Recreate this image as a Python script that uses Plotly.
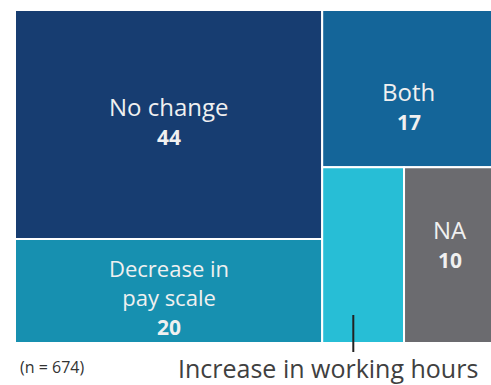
import plotly.graph_objects as go

# Treemap data
labels = ["No change", "Decrease in pay scale", "Both", "Increase in working hours", "NA"]
values = [44, 20, 17, 9, 10]
colors = ["#173d71", "#1790b0", "#146599", "#27bed6", "#6b6b6f"]
sample_note = "(n = 674)"

# Canvas geometry (pixel space, y downwards)
W, H = 491, 385
X0, Y0 = 15, 10
TW, TH = 480, 333

total = sum(values)
left = values[0] + values[1]
right = values[2] + values[3] + values[4]

left_w = TW * left / total
right_w = TW - left_w

rects = {}
# left column: No change over Decrease in pay scale
h0 = TH * values[0] / left
rects[labels[0]] = (X0, Y0, X0 + left_w, Y0 + h0)
rects[labels[1]] = (X0, Y0 + h0, X0 + left_w, Y0 + TH)
# right column: Both on top, then Increase / NA side by side
hb = TH * values[2] / right
rects[labels[2]] = (X0 + left_w, Y0, X0 + TW, Y0 + hb)
bottom = values[3] + values[4]
wi = right_w * values[3] / bottom
rects[labels[3]] = (X0 + left_w, Y0 + hb, X0 + left_w + wi, Y0 + TH)
rects[labels[4]] = (X0 + left_w + wi, Y0 + hb, X0 + TW, Y0 + TH)

fig = go.Figure()
shapes = []
for lab, col in zip(labels, colors):
    x0, y0, x1, y1 = rects[lab]
    shapes.append(dict(type="rect", xref="x", yref="y", x0=x0, y0=y0, x1=x1, y1=y1,
                       fillcolor=col, line=dict(color="white", width=2), layer="below"))

# leader line for the small tile
ix0, iy0, ix1, iy1 = rects[labels[3]]
lx = ix0 + (ix1 - ix0) * 0.38
shapes.append(dict(type="line", xref="x", yref="y", x0=lx, x1=lx, y0=iy1 - 28, y1=iy1 + 9,
                   line=dict(color="#222222", width=2)))

FONT = "Open Sans"
ann = []

def tile_label(lab, text, num, cy, ny, size=24):
    x0, y0, x1, y1 = rects[lab]
    cx = (x0 + x1) / 2
    ann.append(dict(x=cx, y=cy, xref="x", yref="y", text=text, showarrow=False,
                    font=dict(family=FONT, size=size, color="#f0f0f0")))
    ann.append(dict(x=cx, y=ny, xref="x", yref="y", text="<b>%d</b>" % num, showarrow=False,
                    font=dict(family=FONT, size=21, color="#f0f0f0")))

tile_label(labels[0], "No change", values[0], 106, 137)
tile_label(labels[2], "Both", values[2], 91, 122)
tile_label(labels[1], "Decrease in<br>pay scale", values[1], 282, 327, size=22)
tile_label(labels[4], "NA", values[4], 229, 260)

ann.append(dict(x=18, y=367, xref="x", yref="y", text=sample_note, showarrow=False,
                xanchor="left", font=dict(family=FONT, size=16, color="#333333")))
ann.append(dict(x=480, y=368, xref="x", yref="y", text=labels[3], showarrow=False,
                xanchor="right", font=dict(family=FONT, size=25, color="#404040")))

fig.update_layout(
    width=W, height=H, margin=dict(l=0, r=0, t=0, b=0),
    paper_bgcolor="white", plot_bgcolor="white",
    shapes=shapes, annotations=ann, showlegend=False,
    xaxis=dict(range=[0, W], visible=False, fixedrange=True),
    yaxis=dict(range=[H, 0], visible=False, fixedrange=True),
)
fig.write_html("out.html", config={"displayModeBar": False})
